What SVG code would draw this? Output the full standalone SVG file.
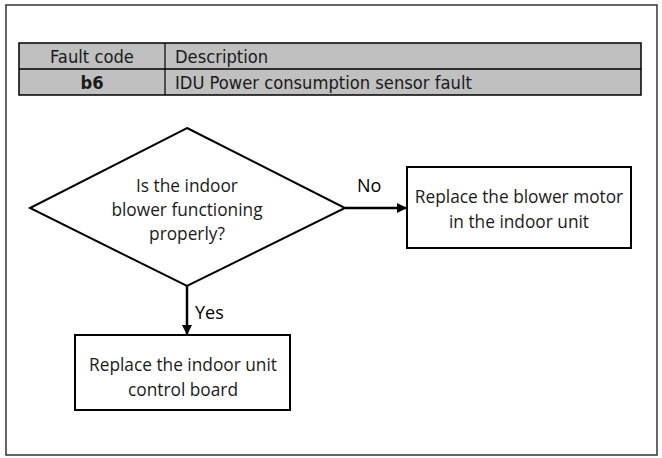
<svg xmlns="http://www.w3.org/2000/svg" width="662" height="458" viewBox="0 0 662 458">
<style>
.tbl{font-family:"Liberation Sans Narrow","DejaVu Sans Condensed","Liberation Sans",sans-serif;font-size:18.2px;fill:#1a1a1a}
.fc{font-family:"Open Sans",Lato,sans-serif;font-size:17.3px;fill:#1a1a1a;text-anchor:middle}
.lbl{font-family:"Open Sans",Lato,sans-serif;font-size:18px;fill:#000}
.shape{fill:#fff;stroke:#000;stroke-width:2}
.conn{stroke:#000;stroke-width:2.5;fill:none}
</style>
<defs>
<marker id="ah" markerWidth="10" markerHeight="10" refX="9" refY="5" orient="auto" markerUnits="userSpaceOnUse" viewBox="0 0 10 10">
<path d="M0,0 L10,5 L0,10 Z" fill="#000"/>
</marker>
</defs>
<rect x="6" y="5" width="651" height="450" fill="#fff" stroke="#333" stroke-width="1.5"/>
<g id="table">
<rect x="19" y="43" width="622" height="52" fill="#c0c0c0" stroke="#000" stroke-width="1.5"/>
<line x1="19" y1="69" x2="641" y2="69" stroke="#000" stroke-width="1.5"/>
<line x1="165" y1="43" x2="165" y2="95" stroke="#000" stroke-width="1.2"/>
<text class="tbl" x="92" y="63" text-anchor="middle">Fault code</text>
<text class="tbl" x="175" y="63">Description</text>
<text class="tbl" x="92" y="89" text-anchor="middle" font-weight="bold">b6</text>
<text class="tbl" x="175" y="89">IDU Power consumption sensor fault</text>
</g>
<g id="connectors">
<line class="conn" x1="345" y1="208" x2="406" y2="208" marker-end="url(#ah)"/>
<line class="conn" x1="187" y1="286" x2="187" y2="334" marker-end="url(#ah)"/>
<text class="lbl" x="357" y="192">No</text>
<text class="lbl" x="195" y="319">Yes</text>
</g>
<g id="decision">
<polygon class="shape" points="187,128 345,208 187,286 30,208"/>
<text class="fc" x="187" y="192">Is the indoor</text>
<text class="fc" x="187" y="216">blower functioning</text>
<text class="fc" x="187" y="240">properly?</text>
</g>
<g id="replace-blower">
<rect class="shape" x="407" y="167" width="224" height="81"/>
<text class="fc" x="519" y="203">Replace the blower motor</text>
<text class="fc" x="519" y="228">in the indoor unit</text>
</g>
<g id="replace-board">
<rect class="shape" x="75" y="335" width="215" height="75"/>
<text class="fc" x="183" y="371">Replace the indoor unit</text>
<text class="fc" x="183" y="396">control board</text>
</g>
</svg>
